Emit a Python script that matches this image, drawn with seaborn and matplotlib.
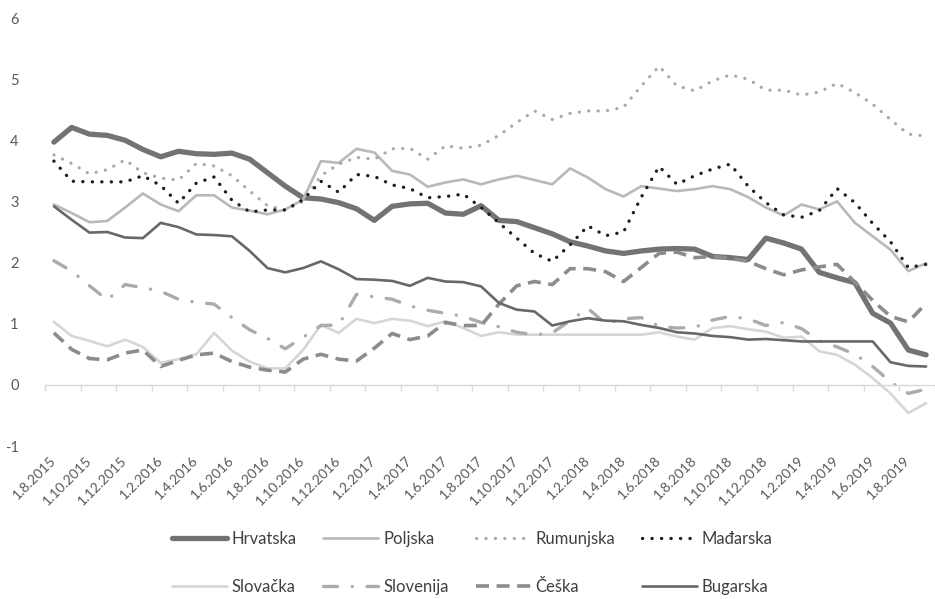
import numpy as np
import pandas as pd
import matplotlib
matplotlib.use("Agg")
import matplotlib.pyplot as plt
import seaborn as sns

# ---------------- data ----------------
months = pd.date_range("2015-08-01", periods=50, freq="MS")
tick_labels = ["1.8.2015", "1.10.2015", "1.12.2015", "1.2.2016", "1.4.2016", "1.6.2016",
               "1.8.2016", "1.10.2016", "1.12.2016", "1.2.2017", "1.4.2017", "1.6.2017",
               "1.8.2017", "1.10.2017", "1.12.2017", "1.2.2018", "1.4.2018", "1.6.2018",
               "1.8.2018", "1.10.2018", "1.12.2018", "1.2.2019", "1.4.2019", "1.6.2019",
               "1.8.2019"]

hrvatska = [3.97, 4.21, 4.10, 4.08, 4.00, 3.85, 3.73, 3.82, 3.78, 3.77,
            3.79, 3.69, 3.47, 3.25, 3.06, 3.04, 2.98, 2.88, 2.69, 2.92,
            2.96, 2.97, 2.81, 2.79, 2.93, 2.69, 2.67, 2.57, 2.47, 2.34,
            2.27, 2.19, 2.15, 2.19, 2.22, 2.23, 2.22, 2.10, 2.08, 2.05,
            2.40, 2.32, 2.22, 1.84, 1.75, 1.67, 1.17, 1.01, 0.57, 0.49]
poljska = [2.95, 2.81, 2.66, 2.68, 2.90, 3.13, 2.95, 2.84, 3.10, 3.10,
           2.90, 2.85, 2.79, 2.87, 3.03, 3.66, 3.63, 3.86, 3.80, 3.50,
           3.44, 3.24, 3.31, 3.36, 3.28, 3.36, 3.42, 3.35, 3.28, 3.54,
           3.39, 3.20, 3.08, 3.25, 3.21, 3.17, 3.20, 3.25, 3.20, 3.07,
           2.90, 2.77, 2.95, 2.87, 3.00, 2.65, 2.43, 2.21, 1.86, 1.99]
rumunjska = [3.76, 3.62, 3.45, 3.52, 3.68, 3.47, 3.38, 3.35, 3.62, 3.58,
             3.42, 3.17, 2.93, 2.86, 3.00, 3.42, 3.61, 3.72, 3.69, 3.86,
             3.87, 3.69, 3.91, 3.87, 3.92, 4.08, 4.29, 4.48, 4.34, 4.44,
             4.48, 4.48, 4.54, 4.89, 5.21, 4.89, 4.81, 4.97, 5.07, 5.00,
             4.82, 4.82, 4.74, 4.79, 4.93, 4.78, 4.59, 4.34, 4.10, 4.07]
madarska = [3.66, 3.33, 3.32, 3.32, 3.32, 3.42, 3.26, 2.97, 3.30, 3.40,
            3.02, 2.83, 2.86, 2.86, 3.03, 3.33, 3.15, 3.44, 3.41, 3.27,
            3.21, 3.06, 3.08, 3.12, 2.90, 2.65, 2.40, 2.15, 2.02, 2.29,
            2.60, 2.44, 2.50, 3.07, 3.57, 3.28, 3.42, 3.53, 3.61, 3.25,
            2.98, 2.78, 2.74, 2.85, 3.21, 2.98, 2.64, 2.34, 1.92, 1.97]
slovacka = [1.03, 0.80, 0.72, 0.63, 0.74, 0.62, 0.36, 0.42, 0.50, 0.85,
            0.56, 0.38, 0.27, 0.27, 0.57, 0.98, 0.85, 1.08, 1.01, 1.08,
            1.05, 0.96, 1.04, 0.93, 0.80, 0.86, 0.82, 0.82, 0.82, 0.82,
            0.82, 0.82, 0.82, 0.82, 0.86, 0.79, 0.74, 0.93, 0.96, 0.91,
            0.87, 0.77, 0.79, 0.55, 0.49, 0.33, 0.11, -0.14, -0.46, -0.30]
slovenija = [2.03, 1.86, 1.62, 1.39, 1.64, 1.59, 1.53, 1.40, 1.35, 1.32,
             1.10, 0.90, 0.76, 0.59, 0.78, 0.97, 0.98, 1.48, 1.44, 1.40,
             1.29, 1.22, 1.17, 1.12, 1.02, 0.95, 0.86, 0.82, 0.85, 1.05,
             1.25, 1.00, 1.08, 1.10, 0.96, 0.93, 0.94, 1.06, 1.12, 1.08,
             0.97, 1.02, 0.92, 0.72, 0.62, 0.50, 0.30, 0.05, -0.14, -0.07]
ceska = [0.85, 0.58, 0.43, 0.41, 0.52, 0.57, 0.30, 0.40, 0.49, 0.52,
         0.38, 0.29, 0.24, 0.21, 0.42, 0.50, 0.42, 0.39, 0.60, 0.84,
         0.74, 0.80, 1.02, 0.97, 0.97, 1.32, 1.62, 1.69, 1.64, 1.90,
         1.90, 1.85, 1.69, 1.92, 2.15, 2.17, 2.08, 2.10, 2.07, 2.02,
         1.90, 1.80, 1.88, 1.93, 1.97, 1.68, 1.38, 1.12, 1.03, 1.33]
bugarska = [2.92, 2.70, 2.49, 2.50, 2.41, 2.40, 2.65, 2.58, 2.46, 2.45,
            2.43, 2.19, 1.91, 1.84, 1.91, 2.02, 1.89, 1.73, 1.72, 1.70,
            1.62, 1.75, 1.69, 1.68, 1.61, 1.34, 1.23, 1.20, 0.97, 1.04,
            1.09, 1.05, 1.04, 0.98, 0.93, 0.86, 0.84, 0.80, 0.78, 0.74,
            0.75, 0.73, 0.71, 0.71, 0.71, 0.71, 0.71, 0.37, 0.31, 0.30]

series_names = ["Hrvatska", "Poljska", "Rumunjska", "Mađarska",
                "Slovačka", "Slovenija", "Češka", "Bugarska"]
series_values = [hrvatska, poljska, rumunjska, madarska,
                 slovacka, slovenija, ceska, bugarska]

# ---------------- styles ----------------
styles = {
    "Hrvatska": dict(color="#737373", linewidth=3.8, linestyle="-",
                     solid_capstyle="round", solid_joinstyle="round"),
    "Poljska": dict(color="#b9b9b9", linewidth=1.9, linestyle="-",
                    solid_joinstyle="round"),
    "Rumunjska": dict(color="#a8a8a8", linewidth=2.3, linestyle=(0, (0.05, 2.9)),
                      dash_capstyle="round"),
    "Mađarska": dict(color="#1e1e1e", linewidth=2.4, linestyle=(0, (0.05, 2.8)),
                     dash_capstyle="round"),
    "Slovačka": dict(color="#d6d6d6", linewidth=1.9, linestyle="-",
                     solid_joinstyle="round"),
    "Slovenija": dict(color="#ababab", linewidth=2.4, linestyle=(0, (4.2, 4.4, 0.05, 4.4)),
                      dash_capstyle="round"),
    "Češka": dict(color="#8c8c8c", linewidth=2.6, linestyle=(0, (3.6, 2.1)),
                  dash_capstyle="butt"),
    "Bugarska": dict(color="#686868", linewidth=1.9, linestyle="-",
                     solid_joinstyle="round"),
}

sns.set_theme(style="white")
plt.rcParams["font.family"] = ["Lato", "DejaVu Sans"]

W, H = 935, 599
fig = plt.figure(figsize=(W / 100, H / 100), dpi=100)
ax = fig.add_axes([45 / W, (H - 446) / H, (W - 45) / W, (446 - 18) / H])

idx = np.arange(len(months))
for name, vals in zip(series_names, series_values):
    sns.lineplot(x=idx, y=vals, ax=ax, label=name, **styles[name])

ax.set_xlim(-0.5, (W - 53.9) / 17.85)
ax.set_ylim(-1, 6)

# y axis
ax.set_yticks(range(-1, 7))
ax.set_yticklabels([str(v) for v in range(-1, 7)])
ax.tick_params(axis="y", length=0, pad=19, labelsize=10.5, labelcolor="#595959")
for s in ["left", "right", "top"]:
    ax.spines[s].set_visible(False)

# horizontal axis line at zero with tick marks between categories
ax.spines["bottom"].set_position(("data", 0))
ax.spines["bottom"].set_color("#d9d9d9")
ax.spines["bottom"].set_linewidth(1.0)
ax.set_xticks(np.arange(-0.5, len(months), 2))
ax.tick_params(axis="x", which="major", direction="out", length=4, width=1.0,
               color="#d9d9d9", labelbottom=False, bottom=True)
ax.grid(False)

# category labels at bottom of plot
sec = ax.secondary_xaxis(0.0)
sec.set_xticks(idx[::2])
sec.set_xticklabels(tick_labels, rotation=45, ha="right", va="center",
                    rotation_mode="anchor", fontsize=10, color="#595959")
sec.tick_params(axis="x", length=0, pad=9)
sec.spines["bottom"].set_visible(False)

# legend
handles, labels = ax.get_legend_handles_labels()
ax.get_legend().remove()
order = [0, 4, 1, 5, 2, 6, 3, 7]
fig.legend([handles[i] for i in order], [labels[i] for i in order],
           loc="center", bbox_to_anchor=(0.505, (H - 563) / H), ncol=4,
           frameon=False, fontsize=12, labelcolor="#404040",
           handlelength=3.3, handletextpad=0.3, columnspacing=1.6,
           labelspacing=1.9)

fig.savefig("out.png", dpi=100)
